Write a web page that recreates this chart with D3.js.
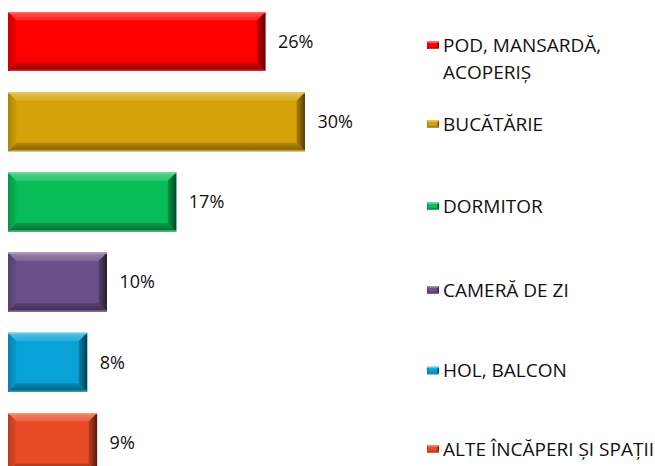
<!DOCTYPE html>
<html>
<head>
<meta charset="utf-8">
<script src="https://cdn.jsdelivr.net/npm/d3@7/dist/d3.min.js"></script>
<style>
  html, body { margin: 0; padding: 0; background: #fff; }
  svg { display: block; }
  text { font-family: "Open Sans", "Noto Sans", sans-serif; fill: #111; }
</style>
</head>
<body>
<svg id="chart" width="655" height="466"></svg>
<script>
// Rooms and their share of answers
const categories = [
  "POD, MANSARDĂ, ACOPERIȘ",
  "BUCĂTĂRIE",
  "DORMITOR",
  "CAMERĂ DE ZI",
  "HOL, BALCON",
  "ALTE ÎNCĂPERI ȘI SPAȚII"
];
const values = [26, 30, 17, 10, 8, 9];
const valueLabels = ["26%", "30%", "17%", "10%", "8%", "9%"];
const barColors = ["#fe0000", "#d6a20a", "#08bc58", "#6a5088", "#08a2d6", "#e84c26"];

const W = 655, H = 466;
const svg = d3.select("#chart");
const defs = svg.append("defs");

const x = d3.scaleLinear().domain([0, 30]).range([8, 305]);
const y = d3.scaleBand().domain(categories)
  .range([1.4, 482.6]).paddingInner(0.264).paddingOuter(0.132);

const lighten = (c, t) => d3.interpolateRgb(c, "#ffffff")(t);
const darken = (c, t) => d3.interpolateRgb(c, "#000000")(t);

// Linear gradient helper; direction given as x1,y1,x2,y2 in bbox units
function grad(id, dir, stops) {
  const g = defs.append("linearGradient").attr("id", id)
    .attr("x1", dir[0]).attr("y1", dir[1]).attr("x2", dir[2]).attr("y2", dir[3]);
  stops.forEach(([o, c]) => g.append("stop").attr("offset", o).attr("stop-color", c));
  return `url(#${id})`;
}

// Draws a bevelled rectangle (lit from the top-left)
function bevelRect(g, id, x0, y0, w, h, color, b) {
  const x1 = x0 + w, y1 = y0 + h;
  b = Math.min(b, w / 2, h / 2);
  const top = grad(id + "t", [0, 0, 0, 1], [[0, lighten(color, 0.32)], [1, lighten(color, 0.12)]]);
  const left = grad(id + "l", [0, 0, 1, 0], [[0, darken(color, 0.2)], [1, darken(color, 0.04)]]);
  const right = grad(id + "r", [0, 0, 1, 0], [[0, darken(color, 0.2)], [1, darken(color, 0.62)]]);
  const bottom = grad(id + "b", [0, 0, 0, 1], [[0, darken(color, 0.16)], [1, darken(color, 0.42)]]);
  const poly = pts => pts.map(p => p.join(",")).join(" ");
  g.append("rect").attr("x", x0).attr("y", y0).attr("width", w).attr("height", h).attr("fill", color);
  g.append("polygon").attr("points", poly([[x0, y0], [x1, y0], [x1 - b, y0 + b], [x0 + b, y0 + b]])).attr("fill", top);
  g.append("polygon").attr("points", poly([[x0, y0], [x0 + b, y0 + b], [x0 + b, y1 - b], [x0, y1]])).attr("fill", left);
  g.append("polygon").attr("points", poly([[x0, y1], [x0 + b, y1 - b], [x1 - b, y1 - b], [x1, y1]])).attr("fill", bottom);
  g.append("polygon").attr("points", poly([[x1, y0], [x1, y1], [x1 - b, y1 - b], [x1 - b, y0 + b]])).attr("fill", right);
  // thin light rim along the top and bottom edges
  const rim = Math.max(1, b / 6);
  g.append("rect").attr("x", x0).attr("y", y0).attr("width", w).attr("height", rim)
    .attr("fill", lighten(color, 0.45)).attr("opacity", 0.8);
  g.append("rect").attr("x", x0 + rim).attr("y", y1 - rim).attr("width", w - rim).attr("height", rim)
    .attr("fill", lighten(color, 0.3)).attr("opacity", 0.6);
}

// Bars
const bars = svg.append("g");
categories.forEach((c, i) => {
  const g = bars.append("g");
  bevelRect(g, "bar" + i, x(0), y(c), x(values[i]) - x(0), y.bandwidth(), barColors[i], 8.5);
});

// Value labels
svg.append("g").selectAll("text").data(categories).join("text")
  .attr("x", (c, i) => x(values[i]) + 12.5)
  .attr("y", c => y(c) + y.bandwidth() / 2)
  .attr("dy", "0.35em")
  .attr("font-size", 18)
  .text((c, i) => valueLabels[i]);

// Legend
const legendBaselines = [52, 130.7, 213, 296.7, 377.3, 455.7];
const legendX = 443, lineGap = 26.7, wrapWidth = 222;
const legend = svg.append("g");
categories.forEach((c, i) => {
  const yb = legendBaselines[i];
  const key = legend.append("g");
  bevelRect(key, "key" + i, legendX - 16, yb - 10.5, 12, 7.5, barColors[i], 2);
  const t = legend.append("text").attr("x", legendX).attr("y", yb).attr("font-size", 19);
  const words = c.split(" ");
  let line = [], ts = t.append("tspan").attr("x", legendX);
  words.forEach(wd => {
    line.push(wd);
    ts.text(line.join(" "));
    if (ts.node().getComputedTextLength() > wrapWidth && line.length > 1) {
      line.pop();
      ts.text(line.join(" "));
      line = [wd];
      ts = t.append("tspan").attr("x", legendX).attr("dy", lineGap).text(wd);
    }
  });
});
</script>
</body>
</html>
